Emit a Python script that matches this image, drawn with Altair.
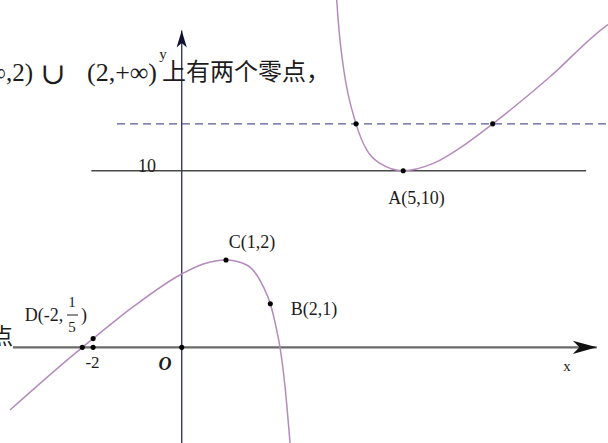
import altair as alt
import pandas as pd

# ---- curve samples, in axis units ----
left_x = [-3.876, -2.244, -2.0, -1.093, 0.0, 0.488, 1.0, 1.467, 1.842, 2.0, 2.144, 2.219, 2.332, 2.445]
left_y = [-1.434, 0.0, 0.2, 0.931, 1.68, 1.908, 2.0, 1.886, 1.389, 1.0, 0.397, 0.0, -0.90, -2.19]

right_x = [3.48, 3.499, 3.558, 3.648, 3.935, 4.176, 4.476, 5.0, 5.679, 6.433, 7.02, 8.314, 9.555, 9.7]
right_y = [26.5, 25.3, 22.31, 19.32, 14.2, 11.86, 10.66, 10.0, 10.66, 12.46, 14.2, 18.42, 22.9, 23.3]

# marked points
dot_x = [-2.244, -2.0, -2.0, 0.0, 1.0, 2.0, 5.0, 3.935, 7.02]
dot_y = [0.0, 0.0, 0.2, 0.0, 2.0, 1.0, 10.0, 14.2, 14.2]

# reference lines
min_level = 10.0
dash_level = 14.2
min_line_x = [-2.04, 9.13]
dash_line_x = [-1.46, 9.7]

# axes extents
x_axis_x = [-3.81, 9.37]
y_axis_y = [-2.3, 22.56]

W, H = 608, 443

# the vertical direction is drawn schematically: a steeper unit below y=2
xs = alt.Scale(domain=[-4.102, 9.623], range=[0, W], nice=False, zero=False)
ys = alt.Scale(domain=[-2.19, 2, 25.3], range=[H, 260, 0], nice=False, zero=False)

def X(f="x"):
    return alt.X(f"{f}:Q", scale=xs, axis=None)

def Y(f="y"):
    return alt.Y(f"{f}:Q", scale=ys, axis=None)

left = pd.DataFrame({"x": left_x, "y": left_y})
right = pd.DataFrame({"x": right_x, "y": right_y})
dots = pd.DataFrame({"x": dot_x, "y": dot_y})

curve_color = "#b48cbc"
left_curve = alt.Chart(left).mark_line(color=curve_color, strokeWidth=1.5, interpolate="monotone").encode(x=X(), y=Y())
right_curve = alt.Chart(right).mark_line(color=curve_color, strokeWidth=1.5, interpolate="monotone").encode(x=X(), y=Y())

min_line = alt.Chart(pd.DataFrame({"x": min_line_x, "y": [min_level] * 2})).mark_line(
    color="#484848", strokeWidth=1.4).encode(x=X(), y=Y())
dash_line = alt.Chart(pd.DataFrame({"x": dash_line_x, "y": [dash_level] * 2})).mark_line(
    color="#5a5a96", strokeWidth=1.4, strokeDash=[8, 5]).encode(x=X(), y=Y())

x_axis = alt.Chart(pd.DataFrame({"x": x_axis_x, "y": [0, 0]})).mark_line(
    color="#6a6a6a", strokeWidth=2.4).encode(x=X(), y=Y())
y_axis = alt.Chart(pd.DataFrame({"x": [0, 0], "y": y_axis_y})).mark_line(
    color="#3a3a6a", strokeWidth=1.4).encode(x=X(), y=Y())

x_head = alt.Chart(pd.DataFrame({"x": [x_axis_x[1]], "y": [0]})).mark_point(
    shape="M0,0 L-2,-0.55 L-1.45,0 L-2,0.55 Z", size=576, filled=True, color="#111111", opacity=1
).encode(x=X(), y=Y())
y_head = alt.Chart(pd.DataFrame({"x": [0], "y": [y_axis_y[1]]})).mark_point(
    shape="M0,0 L-0.6,2 L0,1.45 L0.6,2 Z", size=289, filled=True, color="#111133", opacity=1
).encode(x=X(), y=Y())

points = alt.Chart(dots).mark_circle(size=26, color="#000000", opacity=1).encode(x=X(), y=Y())

SERIF = "Liberation Serif"
CJK = "Noto Sans CJK SC"
INK = "#1c1c1c"

def label(text, px, py, size=18, font=SERIF, align="center", style="normal", weight="normal"):
    return alt.Chart(pd.DataFrame({"t": [text]})).mark_text(
        font=font, fontSize=size, align=align, baseline="middle", color=INK,
        fontStyle=style, fontWeight=weight
    ).encode(x=alt.value(px), y=alt.value(py), text="t:N")

labels = [
    label("C(1,2)", 252, 243),
    label("B(2,1)", 314, 310),
    label("A(5,10)", 416.5, 199),
    label("10", 147, 167),
    label("-2", 92.5, 363, size=17),
    label("O", 165, 365, size=18, style="italic", weight="bold"),
    label("x", 567, 366, size=15),
    label("y", 163, 54, size=15),
    label("D(-2,", 44, 316),
    label("1", 72, 302, size=15),
    label("5", 72, 327, size=15),
    label(")", 84, 316),
    label("点", 13, 337, size=22, font=CJK, align="right"),
    # interval written in the text line above the figure
    label("(−∞,2)", 33, 73, size=25, align="right"),
    label("∪", 53, 75, size=30, font="DejaVu Serif"),
    label("(2,+∞)", 157, 73, size=26, align="right"),
    label("上有两个零点，", 162, 73, size=24, font=CJK, align="left"),
]

frac_bar = alt.Chart(pd.DataFrame({"v": [0]})).mark_rule(color=INK, strokeWidth=1).encode(
    x=alt.value(67), x2=alt.value(78), y=alt.value(315)
)

chart = alt.layer(
    dash_line, min_line, x_axis, y_axis, left_curve, right_curve,
    x_head, y_head, points, frac_bar, *labels
).properties(
    width=W, height=H, autosize=alt.AutoSizeParams(type="none"), padding=0,
    background="#ffffff"
).configure_view(stroke=None)

chart.save("out.html", embed_options={"renderer": "svg", "actions": False})
